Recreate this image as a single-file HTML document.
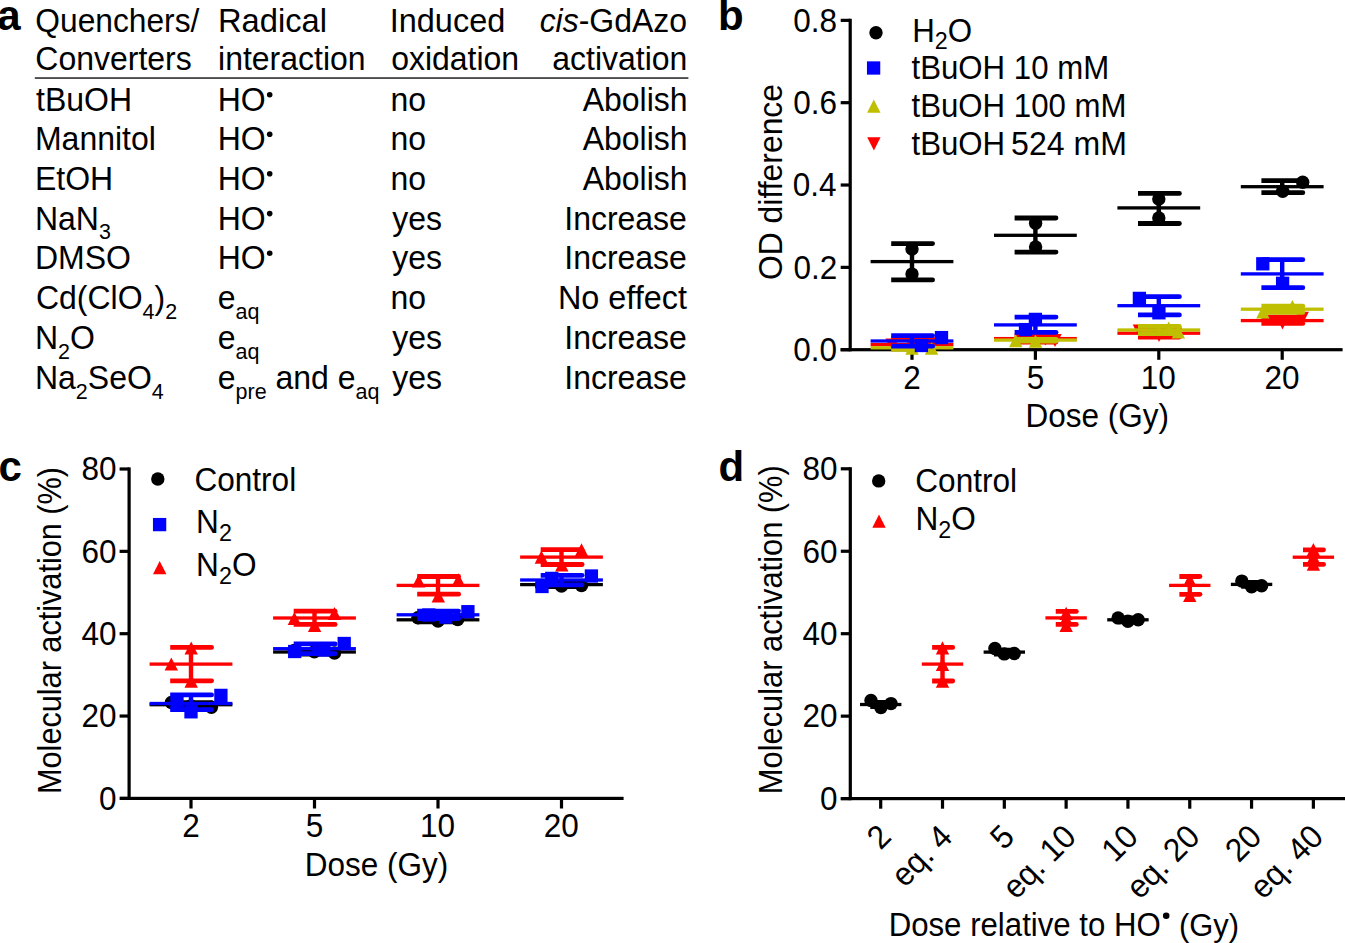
<!DOCTYPE html>
<html><head><meta charset="utf-8"><style>
html,body{margin:0;padding:0;background:#fff;}
svg{display:block;}
text{font-family:"Liberation Sans",sans-serif;}
</style></head><body>
<svg width="1345" height="943" viewBox="0 0 1345 943">
<rect width="1345" height="943" fill="#fff"/>
<text x="-2.72" y="29.50" font-size="42" text-anchor="start" style="font-weight:bold;" fill="#000"  >a</text>
<text x="35.31" y="31.90" font-size="32" text-anchor="start" style="" fill="#000" transform="matrix(1 0 0 1.04 0 -1.276)"  textLength="164.07" lengthAdjust="spacingAndGlyphs">Quenchers/</text>
<text x="35.37" y="70.50" font-size="32" text-anchor="start" style="" fill="#000" transform="matrix(1 0 0 1.04 0 -2.820)" >Converters</text>
<text x="217.92" y="31.90" font-size="32" text-anchor="start" style="" fill="#000" transform="matrix(1 0 0 1.04 0 -1.276)"  textLength="109.07" lengthAdjust="spacingAndGlyphs">Radical</text>
<text x="218.06" y="70.50" font-size="32" text-anchor="start" style="" fill="#000" transform="matrix(1 0 0 1.04 0 -2.820)" >interaction</text>
<text x="389.71" y="31.90" font-size="32" text-anchor="start" style="" fill="#000" transform="matrix(1 0 0 1.04 0 -1.276)"  textLength="115.59" lengthAdjust="spacingAndGlyphs">Induced</text>
<text x="391.16" y="70.50" font-size="32" text-anchor="start" style="" fill="#000" transform="matrix(1 0 0 1.04 0 -2.820)" >oxidation</text>
<text x="687.15" y="31.90" font-size="32" text-anchor="end" transform="matrix(1 0 0 1.04 0 -1.276)" ><tspan style="font-style:italic">cis</tspan>-GdAzo</text>
<text x="687.40" y="70.50" font-size="32" text-anchor="end" style="" fill="#000" transform="matrix(1 0 0 1.04 0 -2.820)" >activation</text>
<rect x="34.8" y="77.2" width="653.6" height="1.7" fill="#3a3a3a"/>
<text x="36.12" y="110.70" font-size="32" text-anchor="start" transform="matrix(1 0 0 1.04 0 -4.428)" >tBuOH</text>
<text x="34.98" y="150.20" font-size="32" text-anchor="start" transform="matrix(1 0 0 1.04 0 -6.008)" >Mannitol</text>
<text x="34.98" y="189.80" font-size="32" text-anchor="start" transform="matrix(1 0 0 1.04 0 -7.592)" >EtOH</text>
<text x="34.98" y="229.60" font-size="32" text-anchor="start" transform="matrix(1 0 0 1.04 0 -9.184)" >NaN<tspan font-size="21.5" dy="9">3</tspan></text>
<text x="34.98" y="269.20" font-size="32" text-anchor="start" transform="matrix(1 0 0 1.04 0 -10.768)" >DMSO</text>
<text x="35.97" y="309.30" font-size="32" text-anchor="start" transform="matrix(1 0 0 1.04 0 -12.372)" >Cd(ClO<tspan font-size="21.5" dy="9">4</tspan><tspan dy="-9">)</tspan><tspan font-size="21.5" dy="9">2</tspan></text>
<text x="34.98" y="349.30" font-size="32" text-anchor="start" transform="matrix(1 0 0 1.04 0 -13.972)" >N<tspan font-size="21.5" dy="9">2</tspan><tspan dy="-9">O</tspan></text>
<text x="34.98" y="389.20" font-size="32" text-anchor="start" transform="matrix(1 0 0 1.04 0 -15.568)" >Na<tspan font-size="21.5" dy="9">2</tspan><tspan dy="-9">SeO</tspan><tspan font-size="21.5" dy="9">4</tspan></text>
<text x="217.78" y="110.70" font-size="32" text-anchor="start" transform="matrix(1 0 0 1.04 0 -4.428)" >HO</text>
<circle cx="269.7" cy="94.70" r="2.8" fill="#000"/>
<text x="217.78" y="150.20" font-size="32" text-anchor="start" transform="matrix(1 0 0 1.04 0 -6.008)" >HO</text>
<circle cx="269.7" cy="134.20" r="2.8" fill="#000"/>
<text x="217.78" y="189.80" font-size="32" text-anchor="start" transform="matrix(1 0 0 1.04 0 -7.592)" >HO</text>
<circle cx="269.7" cy="173.80" r="2.8" fill="#000"/>
<text x="217.78" y="229.60" font-size="32" text-anchor="start" transform="matrix(1 0 0 1.04 0 -9.184)" >HO</text>
<circle cx="269.7" cy="213.60" r="2.8" fill="#000"/>
<text x="217.78" y="269.20" font-size="32" text-anchor="start" transform="matrix(1 0 0 1.04 0 -10.768)" >HO</text>
<circle cx="269.7" cy="253.20" r="2.8" fill="#000"/>
<text x="217.76" y="309.30" font-size="32" text-anchor="start" transform="matrix(1 0 0 1.04 0 -12.372)" >e<tspan font-size="21.5" dy="9">aq</tspan></text>
<text x="217.76" y="349.30" font-size="32" text-anchor="start" transform="matrix(1 0 0 1.04 0 -13.972)" >e<tspan font-size="21.5" dy="9">aq</tspan></text>
<text x="217.76" y="389.20" font-size="32" text-anchor="start" transform="matrix(1 0 0 1.04 0 -15.568)" >e<tspan font-size="21.5" dy="9">pre</tspan><tspan dy="-9"> and e</tspan><tspan font-size="21.5" dy="9">aq</tspan></text>
<text x="390.59" y="110.70" font-size="32" text-anchor="start" style="" fill="#000" transform="matrix(1 0 0 1.04 0 -4.428)" >no</text>
<text x="390.59" y="150.20" font-size="32" text-anchor="start" style="" fill="#000" transform="matrix(1 0 0 1.04 0 -6.008)" >no</text>
<text x="390.59" y="189.80" font-size="32" text-anchor="start" style="" fill="#000" transform="matrix(1 0 0 1.04 0 -7.592)" >no</text>
<text x="392.20" y="229.60" font-size="32" text-anchor="start" style="" fill="#000" transform="matrix(1 0 0 1.04 0 -9.184)" >yes</text>
<text x="392.20" y="269.20" font-size="32" text-anchor="start" style="" fill="#000" transform="matrix(1 0 0 1.04 0 -10.768)" >yes</text>
<text x="390.59" y="309.30" font-size="32" text-anchor="start" style="" fill="#000" transform="matrix(1 0 0 1.04 0 -12.372)" >no</text>
<text x="392.20" y="349.30" font-size="32" text-anchor="start" style="" fill="#000" transform="matrix(1 0 0 1.04 0 -13.972)" >yes</text>
<text x="392.20" y="389.20" font-size="32" text-anchor="start" style="" fill="#000" transform="matrix(1 0 0 1.04 0 -15.568)" >yes</text>
<text x="687.57" y="110.70" font-size="32" text-anchor="end" style="" fill="#000" transform="matrix(1 0 0 1.04 0 -4.428)" >Abolish</text>
<text x="687.57" y="150.20" font-size="32" text-anchor="end" style="" fill="#000" transform="matrix(1 0 0 1.04 0 -6.008)" >Abolish</text>
<text x="687.57" y="189.80" font-size="32" text-anchor="end" style="" fill="#000" transform="matrix(1 0 0 1.04 0 -7.592)" >Abolish</text>
<text x="686.92" y="229.60" font-size="32" text-anchor="end" style="" fill="#000" transform="matrix(1 0 0 1.04 0 -9.184)" >Increase</text>
<text x="686.92" y="269.20" font-size="32" text-anchor="end" style="" fill="#000" transform="matrix(1 0 0 1.04 0 -10.768)" >Increase</text>
<text x="687.02" y="309.30" font-size="32" text-anchor="end" style="" fill="#000" transform="matrix(1 0 0 1.04 0 -12.372)"  textLength="129.08" lengthAdjust="spacingAndGlyphs">No effect</text>
<text x="686.92" y="349.30" font-size="32" text-anchor="end" style="" fill="#000" transform="matrix(1 0 0 1.04 0 -13.972)" >Increase</text>
<text x="686.92" y="389.20" font-size="32" text-anchor="end" style="" fill="#000" transform="matrix(1 0 0 1.04 0 -15.568)" >Increase</text>
<text x="718.03" y="30.10" font-size="42" text-anchor="start" style="font-weight:bold;" fill="#000"  >b</text>
<text x="836.93" y="360.90" font-size="31.5" text-anchor="end" style="" fill="#000" transform="matrix(1 0 0 1.04 0 -14.436)" >0.0</text>
<text x="837.28" y="278.56" font-size="31.5" text-anchor="end" style="" fill="#000" transform="matrix(1 0 0 1.04 0 -11.143)" >0.2</text>
<text x="836.62" y="196.22" font-size="31.5" text-anchor="end" style="" fill="#000" transform="matrix(1 0 0 1.04 0 -7.849)" >0.4</text>
<text x="837.09" y="113.89" font-size="31.5" text-anchor="end" style="" fill="#000" transform="matrix(1 0 0 1.04 0 -4.556)" >0.6</text>
<text x="837.06" y="31.55" font-size="31.5" text-anchor="end" style="" fill="#000" transform="matrix(1 0 0 1.04 0 -1.262)" >0.8</text>
<text x="912.00" y="388.60" font-size="31.5" text-anchor="middle" style="" fill="#000" transform="matrix(1 0 0 1.04 0 -15.544)" >2</text>
<text x="1035.43" y="388.60" font-size="31.5" text-anchor="middle" style="" fill="#000" transform="matrix(1 0 0 1.04 0 -15.544)" >5</text>
<text x="1158.22" y="388.60" font-size="31.5" text-anchor="middle" style="" fill="#000" transform="matrix(1 0 0 1.04 0 -15.544)" >10</text>
<text x="1282.03" y="388.60" font-size="31.5" text-anchor="middle" style="" fill="#000" transform="matrix(1 0 0 1.04 0 -15.544)" >20</text>
<text x="1097.29" y="427.00" font-size="31.5" text-anchor="middle" style="" fill="#000" transform="matrix(1 0 0 1.04 0 -17.080)" >Dose (Gy)</text>
<g transform="translate(782,182) rotate(-90)">
<text x="-0.04" y="0.00" font-size="31.9" text-anchor="middle" style="" fill="#000" transform="matrix(1 0 0 1.04 0 -0.000)" >OD difference</text>
</g>
<circle cx="876.00" cy="32.70" r="6.70" fill="#000"/>
<rect x="866.95" y="61.35" width="13.30" height="13.30" fill="#0000ff"/>
<path d="M873.80,99.60L880.50,112.80L867.10,112.80Z" fill="#bfbf00"/>
<path d="M873.90,150.50L880.60,137.30L867.20,137.30Z" fill="#ff0000"/>
<text x="912.13" y="41.70" font-size="31.3" text-anchor="start" transform="matrix(1 0 0 1.04 0 -1.668)" >H<tspan font-size="23.3" dy="6.8">2</tspan><tspan dy="-6.8">O</tspan></text>
<text x="911.53" y="79.20" font-size="31.2" text-anchor="start" style="" fill="#000" transform="matrix(1 0 0 1.04 0 -3.168)" >tBuOH 10 mM</text>
<text x="911.53" y="117.10" font-size="31.2" text-anchor="start" style="" fill="#000" transform="matrix(1 0 0 1.04 0 -4.684)" >tBuOH 100 mM</text>
<text x="911.53" y="154.60" font-size="31.2" text-anchor="start" style="" fill="#000" transform="matrix(1 0 0 1.04 0 -6.184)" >tBuOH</text>
<text x="1011.12" y="154.60" font-size="31.2" text-anchor="start" style="" fill="#000" transform="matrix(1 0 0 1.04 0 -6.184)"  textLength="115.93" lengthAdjust="spacingAndGlyphs">524 mM</text>
<rect x="848.60" y="18.75" width="3.20" height="332.55" fill="#000"/>
<rect x="840.70" y="348.10" width="9.50" height="3.20" fill="#000"/>
<rect x="840.70" y="265.76" width="9.50" height="3.20" fill="#000"/>
<rect x="840.70" y="183.43" width="9.50" height="3.20" fill="#000"/>
<rect x="840.70" y="101.09" width="9.50" height="3.20" fill="#000"/>
<rect x="840.70" y="18.75" width="9.50" height="3.20" fill="#000"/>
<rect x="840.60" y="348.10" width="502.00" height="3.20" fill="#000"/>
<rect x="910.40" y="349.70" width="3.20" height="10.10" fill="#000"/>
<rect x="1033.80" y="349.70" width="3.20" height="10.10" fill="#000"/>
<rect x="1157.20" y="349.70" width="3.20" height="10.10" fill="#000"/>
<rect x="1280.60" y="349.70" width="3.20" height="10.10" fill="#000"/>
<rect x="870.60" y="342.95" width="82.80" height="3.30" fill="#ff0000"/>
<rect x="909.80" y="338.70" width="4.40" height="7.10" fill="#ff0000"/>
<path d="M891.20,336.30H932.60A2.40,2.40 0 0 1 932.60,341.10H891.20Z" fill="#ff0000"/>
<path d="M891.20,343.40H932.60A2.40,2.40 0 0 1 932.60,348.20H891.20Z" fill="#ff0000"/>
<path d="M892.20,351.80L898.90,338.60L885.50,338.60Z" fill="#ff0000"/>
<path d="M912.00,351.60L918.70,338.40L905.30,338.40Z" fill="#ff0000"/>
<path d="M931.00,350.60L937.70,337.40L924.30,337.40Z" fill="#ff0000"/>
<rect x="994.00" y="336.95" width="82.80" height="3.30" fill="#ff0000"/>
<rect x="1033.20" y="336.00" width="4.40" height="6.00" fill="#ff0000"/>
<path d="M1014.60,333.60H1056.00A2.40,2.40 0 0 1 1056.00,338.40H1014.60Z" fill="#ff0000"/>
<path d="M1014.60,339.60H1056.00A2.40,2.40 0 0 1 1056.00,344.40H1014.60Z" fill="#ff0000"/>
<path d="M1045.40,345.50L1052.10,332.30L1038.70,332.30Z" fill="#ff0000"/>
<path d="M1055.00,347.10L1061.70,333.90L1048.30,333.90Z" fill="#ff0000"/>
<rect x="1117.40" y="331.55" width="82.80" height="3.30" fill="#ff0000"/>
<rect x="1156.60" y="329.00" width="4.40" height="8.00" fill="#ff0000"/>
<path d="M1138.00,326.60H1179.40A2.40,2.40 0 0 1 1179.40,331.40H1138.00Z" fill="#ff0000"/>
<path d="M1138.00,334.60H1179.40A2.40,2.40 0 0 1 1179.40,339.40H1138.00Z" fill="#ff0000"/>
<path d="M1159.00,341.90L1165.70,328.70L1152.30,328.70Z" fill="#ff0000"/>
<path d="M1139.40,337.60L1146.10,324.40L1132.70,324.40Z" fill="#ff0000"/>
<rect x="1240.80" y="318.95" width="82.80" height="3.30" fill="#ff0000"/>
<rect x="1280.00" y="317.20" width="4.40" height="6.20" fill="#ff0000"/>
<path d="M1261.40,314.80H1302.80A2.40,2.40 0 0 1 1302.80,319.60H1261.40Z" fill="#ff0000"/>
<path d="M1261.40,321.00H1302.80A2.40,2.40 0 0 1 1302.80,325.80H1261.40Z" fill="#ff0000"/>
<path d="M1282.50,329.40L1289.20,316.20L1275.80,316.20Z" fill="#ff0000"/>
<path d="M1302.20,325.00L1308.90,311.80L1295.50,311.80Z" fill="#ff0000"/>
<rect x="870.60" y="346.15" width="82.80" height="3.30" fill="#bfbf00"/>
<rect x="909.80" y="346.30" width="4.40" height="3.00" fill="#bfbf00"/>
<path d="M891.20,343.90H932.60A2.40,2.40 0 0 1 932.60,348.70H891.20Z" fill="#bfbf00"/>
<path d="M891.20,346.90H932.60A2.40,2.40 0 0 1 932.60,351.70H891.20Z" fill="#bfbf00"/>
<path d="M912.00,341.50L918.70,354.70L905.30,354.70Z" fill="#bfbf00"/>
<path d="M931.60,341.50L938.30,354.70L924.90,354.70Z" fill="#bfbf00"/>
<rect x="994.00" y="338.45" width="82.80" height="3.30" fill="#bfbf00"/>
<rect x="1033.20" y="339.30" width="4.40" height="1.70" fill="#bfbf00"/>
<path d="M1014.60,336.90H1056.00A2.40,2.40 0 0 1 1056.00,341.70H1014.60Z" fill="#bfbf00"/>
<path d="M1014.60,338.60H1056.00A2.40,2.40 0 0 1 1056.00,343.40H1014.60Z" fill="#bfbf00"/>
<path d="M1015.70,334.10L1022.40,347.30L1009.00,347.30Z" fill="#bfbf00"/>
<path d="M1035.50,334.60L1042.20,347.80L1028.80,347.80Z" fill="#bfbf00"/>
<rect x="1117.40" y="328.35" width="82.80" height="3.30" fill="#bfbf00"/>
<rect x="1156.60" y="326.40" width="4.40" height="7.20" fill="#bfbf00"/>
<path d="M1138.00,324.00H1179.40A2.40,2.40 0 0 1 1179.40,328.80H1138.00Z" fill="#bfbf00"/>
<path d="M1138.00,331.20H1179.40A2.40,2.40 0 0 1 1179.40,336.00H1138.00Z" fill="#bfbf00"/>
<path d="M1168.70,321.40L1175.40,334.60L1162.00,334.60Z" fill="#bfbf00"/>
<path d="M1178.30,325.30L1185.00,338.50L1171.60,338.50Z" fill="#bfbf00"/>
<rect x="1240.80" y="307.55" width="82.80" height="3.30" fill="#bfbf00"/>
<rect x="1280.00" y="306.20" width="4.40" height="6.20" fill="#bfbf00"/>
<path d="M1261.40,303.80H1302.80A2.40,2.40 0 0 1 1302.80,308.60H1261.40Z" fill="#bfbf00"/>
<path d="M1261.40,310.00H1302.80A2.40,2.40 0 0 1 1302.80,314.80H1261.40Z" fill="#bfbf00"/>
<path d="M1292.40,300.00L1299.10,313.20L1285.70,313.20Z" fill="#bfbf00"/>
<path d="M1262.90,305.30L1269.60,318.50L1256.20,318.50Z" fill="#bfbf00"/>
<rect x="870.60" y="339.35" width="82.80" height="3.30" fill="#0000ff"/>
<rect x="909.80" y="335.60" width="4.40" height="10.60" fill="#0000ff"/>
<path d="M891.20,333.20H932.60A2.40,2.40 0 0 1 932.60,338.00H891.20Z" fill="#0000ff"/>
<path d="M891.20,343.80H932.60A2.40,2.40 0 0 1 932.60,348.60H891.20Z" fill="#0000ff"/>
<rect x="934.85" y="330.95" width="13.30" height="13.30" fill="#0000ff"/>
<rect x="914.75" y="338.85" width="13.30" height="13.30" fill="#0000ff"/>
<rect x="994.00" y="323.25" width="82.80" height="3.30" fill="#0000ff"/>
<rect x="1033.20" y="317.10" width="4.40" height="15.20" fill="#0000ff"/>
<path d="M1014.60,314.70H1056.00A2.40,2.40 0 0 1 1056.00,319.50H1014.60Z" fill="#0000ff"/>
<path d="M1014.60,329.90H1056.00A2.40,2.40 0 0 1 1056.00,334.70H1014.60Z" fill="#0000ff"/>
<rect x="1028.75" y="312.75" width="13.30" height="13.30" fill="#0000ff"/>
<rect x="1018.85" y="322.95" width="13.30" height="13.30" fill="#0000ff"/>
<rect x="1117.40" y="304.05" width="82.80" height="3.30" fill="#0000ff"/>
<rect x="1156.60" y="296.70" width="4.40" height="18.20" fill="#0000ff"/>
<path d="M1138.00,294.30H1179.40A2.40,2.40 0 0 1 1179.40,299.10H1138.00Z" fill="#0000ff"/>
<path d="M1138.00,312.50H1179.40A2.40,2.40 0 0 1 1179.40,317.30H1138.00Z" fill="#0000ff"/>
<rect x="1132.75" y="291.75" width="13.30" height="13.30" fill="#0000ff"/>
<rect x="1152.25" y="306.15" width="13.30" height="13.30" fill="#0000ff"/>
<rect x="1240.80" y="272.25" width="82.80" height="3.30" fill="#0000ff"/>
<rect x="1280.00" y="259.70" width="4.40" height="28.00" fill="#0000ff"/>
<path d="M1261.40,257.30H1302.80A2.40,2.40 0 0 1 1302.80,262.10H1261.40Z" fill="#0000ff"/>
<path d="M1261.40,285.30H1302.80A2.40,2.40 0 0 1 1302.80,290.10H1261.40Z" fill="#0000ff"/>
<rect x="1256.15" y="257.15" width="13.30" height="13.30" fill="#0000ff"/>
<rect x="1275.95" y="276.65" width="13.30" height="13.30" fill="#0000ff"/>
<rect x="870.60" y="259.95" width="82.80" height="3.30" fill="#000"/>
<rect x="909.80" y="243.60" width="4.40" height="36.30" fill="#000"/>
<path d="M891.20,241.20H932.60A2.40,2.40 0 0 1 932.60,246.00H891.20Z" fill="#000"/>
<path d="M891.20,277.50H932.60A2.40,2.40 0 0 1 932.60,282.30H891.20Z" fill="#000"/>
<circle cx="912.00" cy="249.00" r="6.70" fill="#000"/>
<circle cx="912.00" cy="274.10" r="6.70" fill="#000"/>
<rect x="994.00" y="233.65" width="82.80" height="3.30" fill="#000"/>
<rect x="1033.20" y="218.00" width="4.40" height="34.10" fill="#000"/>
<path d="M1014.60,215.60H1056.00A2.40,2.40 0 0 1 1056.00,220.40H1014.60Z" fill="#000"/>
<path d="M1014.60,249.70H1056.00A2.40,2.40 0 0 1 1056.00,254.50H1014.60Z" fill="#000"/>
<circle cx="1035.60" cy="223.20" r="6.70" fill="#000"/>
<circle cx="1035.60" cy="247.00" r="6.70" fill="#000"/>
<rect x="1117.40" y="206.25" width="82.80" height="3.30" fill="#000"/>
<rect x="1156.60" y="193.40" width="4.40" height="30.10" fill="#000"/>
<path d="M1138.00,191.00H1179.40A2.40,2.40 0 0 1 1179.40,195.80H1138.00Z" fill="#000"/>
<path d="M1138.00,221.10H1179.40A2.40,2.40 0 0 1 1179.40,225.90H1138.00Z" fill="#000"/>
<circle cx="1158.80" cy="199.00" r="6.70" fill="#000"/>
<circle cx="1158.80" cy="217.90" r="6.70" fill="#000"/>
<rect x="1240.80" y="185.05" width="82.80" height="3.30" fill="#000"/>
<rect x="1280.00" y="180.70" width="4.40" height="12.00" fill="#000"/>
<path d="M1261.40,178.30H1302.80A2.40,2.40 0 0 1 1302.80,183.10H1261.40Z" fill="#000"/>
<path d="M1261.40,190.30H1302.80A2.40,2.40 0 0 1 1302.80,195.10H1261.40Z" fill="#000"/>
<circle cx="1302.70" cy="182.30" r="6.70" fill="#000"/>
<circle cx="1282.70" cy="191.20" r="6.70" fill="#000"/>
<text x="-1.44" y="481.20" font-size="42" text-anchor="start" style="font-weight:bold;" fill="#000"  >c</text>
<text x="116.43" y="809.70" font-size="31.5" text-anchor="end" style="" fill="#000" transform="matrix(1 0 0 1.04 0 -32.388)" >0</text>
<text x="116.44" y="727.35" font-size="31.5" text-anchor="end" style="" fill="#000" transform="matrix(1 0 0 1.04 0 -29.094)" >20</text>
<text x="116.44" y="645.00" font-size="31.5" text-anchor="end" style="" fill="#000" transform="matrix(1 0 0 1.04 0 -25.800)" >40</text>
<text x="116.44" y="562.65" font-size="31.5" text-anchor="end" style="" fill="#000" transform="matrix(1 0 0 1.04 0 -22.506)" >60</text>
<text x="116.44" y="480.30" font-size="31.5" text-anchor="end" style="" fill="#000" transform="matrix(1 0 0 1.04 0 -19.212)" >80</text>
<text x="191.00" y="837.40" font-size="31.5" text-anchor="middle" style="" fill="#000" transform="matrix(1 0 0 1.04 0 -33.496)" >2</text>
<text x="314.53" y="837.40" font-size="31.5" text-anchor="middle" style="" fill="#000" transform="matrix(1 0 0 1.04 0 -33.496)" >5</text>
<text x="437.42" y="837.40" font-size="31.5" text-anchor="middle" style="" fill="#000" transform="matrix(1 0 0 1.04 0 -33.496)" >10</text>
<text x="561.33" y="837.40" font-size="31.5" text-anchor="middle" style="" fill="#000" transform="matrix(1 0 0 1.04 0 -33.496)" >20</text>
<text x="376.59" y="876.10" font-size="31.5" text-anchor="middle" style="" fill="#000" transform="matrix(1 0 0 1.04 0 -35.044)" >Dose (Gy)</text>
<g transform="translate(61,630.5) rotate(-90)">
<text x="0" y="0" font-size="31.6" text-anchor="middle" textLength="327" lengthAdjust="spacingAndGlyphs" transform="matrix(1 0 0 1.04 0 -0.000)">Molecular activation (%)</text>
</g>
<circle cx="157.80" cy="479.00" r="6.70" fill="#000"/>
<rect x="152.95" y="517.95" width="13.30" height="13.30" fill="#0000ff"/>
<path d="M159.70,561.00L166.40,574.20L153.00,574.20Z" fill="#ff0000"/>
<text x="194.39" y="491.00" font-size="31.6" text-anchor="start" style="" fill="#000" transform="matrix(1 0 0 1.04 0 -19.640)" >Control</text>
<text x="196.11" y="533.50" font-size="31.6" text-anchor="start" transform="matrix(1 0 0 1.04 0 -21.340)" >N<tspan font-size="23.3" dy="6.9">2</tspan></text>
<text x="196.11" y="576.50" font-size="31.6" text-anchor="start" transform="matrix(1 0 0 1.04 0 -23.060)" >N<tspan font-size="23.3" dy="6.9">2</tspan><tspan dy="-6.9">O</tspan></text>
<rect x="149.60" y="703.05" width="82.80" height="3.30" fill="#000"/>
<rect x="188.80" y="702.70" width="4.40" height="4.00" fill="#000"/>
<path d="M170.20,700.30H211.60A2.40,2.40 0 0 1 211.60,705.10H170.20Z" fill="#000"/>
<path d="M170.20,704.30H211.60A2.40,2.40 0 0 1 211.60,709.10H170.20Z" fill="#000"/>
<circle cx="171.40" cy="702.50" r="6.70" fill="#000"/>
<circle cx="211.40" cy="707.30" r="6.70" fill="#000"/>
<circle cx="191.00" cy="706.00" r="6.70" fill="#000"/>
<rect x="273.10" y="650.35" width="82.80" height="3.30" fill="#000"/>
<rect x="312.30" y="650.00" width="4.40" height="4.00" fill="#000"/>
<path d="M293.70,647.60H335.10A2.40,2.40 0 0 1 335.10,652.40H293.70Z" fill="#000"/>
<path d="M293.70,651.60H335.10A2.40,2.40 0 0 1 335.10,656.40H293.70Z" fill="#000"/>
<circle cx="314.40" cy="651.70" r="6.70" fill="#000"/>
<circle cx="334.50" cy="653.00" r="6.70" fill="#000"/>
<circle cx="294.40" cy="650.50" r="6.70" fill="#000"/>
<rect x="396.60" y="618.15" width="82.80" height="3.30" fill="#000"/>
<rect x="435.80" y="617.80" width="4.40" height="4.00" fill="#000"/>
<path d="M417.20,615.40H458.60A2.40,2.40 0 0 1 458.60,620.20H417.20Z" fill="#000"/>
<path d="M417.20,619.40H458.60A2.40,2.40 0 0 1 458.60,624.20H417.20Z" fill="#000"/>
<circle cx="417.90" cy="617.70" r="6.70" fill="#000"/>
<circle cx="438.00" cy="621.00" r="6.70" fill="#000"/>
<circle cx="457.70" cy="619.50" r="6.70" fill="#000"/>
<rect x="520.10" y="582.95" width="82.80" height="3.30" fill="#000"/>
<rect x="559.30" y="582.60" width="4.40" height="4.00" fill="#000"/>
<path d="M540.70,580.20H582.10A2.40,2.40 0 0 1 582.10,585.00H540.70Z" fill="#000"/>
<path d="M540.70,584.20H582.10A2.40,2.40 0 0 1 582.10,589.00H540.70Z" fill="#000"/>
<circle cx="561.50" cy="586.00" r="6.70" fill="#000"/>
<circle cx="581.50" cy="585.50" r="6.70" fill="#000"/>
<circle cx="541.50" cy="585.50" r="6.70" fill="#000"/>
<rect x="149.60" y="701.85" width="82.80" height="3.30" fill="#0000ff"/>
<rect x="188.80" y="694.90" width="4.40" height="14.80" fill="#0000ff"/>
<path d="M170.20,692.50H211.60A2.40,2.40 0 0 1 211.60,697.30H170.20Z" fill="#0000ff"/>
<path d="M170.20,707.30H211.60A2.40,2.40 0 0 1 211.60,712.10H170.20Z" fill="#0000ff"/>
<rect x="214.25" y="688.75" width="13.30" height="13.30" fill="#0000ff"/>
<rect x="184.35" y="705.15" width="13.30" height="13.30" fill="#0000ff"/>
<rect x="170.35" y="696.35" width="13.30" height="13.30" fill="#0000ff"/>
<rect x="273.10" y="647.05" width="82.80" height="3.30" fill="#0000ff"/>
<rect x="312.30" y="643.90" width="4.40" height="9.80" fill="#0000ff"/>
<path d="M293.70,641.50H335.10A2.40,2.40 0 0 1 335.10,646.30H293.70Z" fill="#0000ff"/>
<path d="M293.70,651.30H335.10A2.40,2.40 0 0 1 335.10,656.10H293.70Z" fill="#0000ff"/>
<rect x="337.55" y="636.85" width="13.30" height="13.30" fill="#0000ff"/>
<rect x="288.05" y="644.85" width="13.30" height="13.30" fill="#0000ff"/>
<rect x="317.25" y="643.35" width="13.30" height="13.30" fill="#0000ff"/>
<rect x="396.60" y="613.15" width="82.80" height="3.30" fill="#0000ff"/>
<rect x="435.80" y="611.10" width="4.40" height="7.40" fill="#0000ff"/>
<path d="M417.20,608.70H458.60A2.40,2.40 0 0 1 458.60,613.50H417.20Z" fill="#0000ff"/>
<path d="M417.20,616.10H458.60A2.40,2.40 0 0 1 458.60,620.90H417.20Z" fill="#0000ff"/>
<rect x="461.25" y="605.05" width="13.30" height="13.30" fill="#0000ff"/>
<rect x="422.15" y="608.35" width="13.30" height="13.30" fill="#0000ff"/>
<rect x="438.95" y="610.45" width="13.30" height="13.30" fill="#0000ff"/>
<rect x="520.10" y="578.35" width="82.80" height="3.30" fill="#0000ff"/>
<rect x="559.30" y="575.30" width="4.40" height="9.50" fill="#0000ff"/>
<path d="M540.70,572.90H582.10A2.40,2.40 0 0 1 582.10,577.70H540.70Z" fill="#0000ff"/>
<path d="M540.70,582.40H582.10A2.40,2.40 0 0 1 582.10,587.20H540.70Z" fill="#0000ff"/>
<rect x="584.75" y="569.35" width="13.30" height="13.30" fill="#0000ff"/>
<rect x="535.35" y="579.85" width="13.30" height="13.30" fill="#0000ff"/>
<rect x="545.15" y="571.75" width="13.30" height="13.30" fill="#0000ff"/>
<rect x="149.60" y="662.45" width="82.80" height="3.30" fill="#ff0000"/>
<rect x="188.80" y="647.40" width="4.40" height="33.40" fill="#ff0000"/>
<path d="M170.20,645.00H211.60A2.40,2.40 0 0 1 211.60,649.80H170.20Z" fill="#ff0000"/>
<path d="M170.20,678.40H211.60A2.40,2.40 0 0 1 211.60,683.20H170.20Z" fill="#ff0000"/>
<path d="M191.20,641.40L197.90,654.60L184.50,654.60Z" fill="#ff0000"/>
<path d="M171.30,657.40L178.00,670.60L164.60,670.60Z" fill="#ff0000"/>
<path d="M191.20,674.60L197.90,687.80L184.50,687.80Z" fill="#ff0000"/>
<rect x="273.10" y="616.35" width="82.80" height="3.30" fill="#ff0000"/>
<rect x="312.30" y="611.20" width="4.40" height="13.20" fill="#ff0000"/>
<path d="M293.70,608.80H335.10A2.40,2.40 0 0 1 335.10,613.60H293.70Z" fill="#ff0000"/>
<path d="M293.70,622.00H335.10A2.40,2.40 0 0 1 335.10,626.80H293.70Z" fill="#ff0000"/>
<path d="M334.50,606.90L341.20,620.10L327.80,620.10Z" fill="#ff0000"/>
<path d="M294.40,611.90L301.10,625.10L287.70,625.10Z" fill="#ff0000"/>
<path d="M314.60,618.90L321.30,632.10L307.90,632.10Z" fill="#ff0000"/>
<rect x="396.60" y="583.75" width="82.80" height="3.30" fill="#ff0000"/>
<rect x="435.80" y="576.50" width="4.40" height="17.70" fill="#ff0000"/>
<path d="M417.20,574.10H458.60A2.40,2.40 0 0 1 458.60,578.90H417.20Z" fill="#ff0000"/>
<path d="M417.20,591.80H458.60A2.40,2.40 0 0 1 458.60,596.60H417.20Z" fill="#ff0000"/>
<path d="M418.60,574.40L425.30,587.60L411.90,587.60Z" fill="#ff0000"/>
<path d="M458.40,573.30L465.10,586.50L451.70,586.50Z" fill="#ff0000"/>
<path d="M438.30,589.40L445.00,602.60L431.60,602.60Z" fill="#ff0000"/>
<rect x="520.10" y="555.45" width="82.80" height="3.30" fill="#ff0000"/>
<rect x="559.30" y="549.70" width="4.40" height="14.80" fill="#ff0000"/>
<path d="M540.70,547.30H582.10A2.40,2.40 0 0 1 582.10,552.10H540.70Z" fill="#ff0000"/>
<path d="M540.70,562.10H582.10A2.40,2.40 0 0 1 582.10,566.90H540.70Z" fill="#ff0000"/>
<path d="M581.50,543.30L588.20,556.50L574.80,556.50Z" fill="#ff0000"/>
<path d="M541.40,550.60L548.10,563.80L534.70,563.80Z" fill="#ff0000"/>
<path d="M561.80,558.40L568.50,571.60L555.10,571.60Z" fill="#ff0000"/>
<rect x="127.50" y="467.40" width="3.20" height="332.60" fill="#000"/>
<rect x="119.60" y="796.80" width="9.50" height="3.20" fill="#000"/>
<rect x="119.60" y="714.45" width="9.50" height="3.20" fill="#000"/>
<rect x="119.60" y="632.10" width="9.50" height="3.20" fill="#000"/>
<rect x="119.60" y="549.75" width="9.50" height="3.20" fill="#000"/>
<rect x="119.60" y="467.40" width="9.50" height="3.20" fill="#000"/>
<rect x="120.00" y="796.80" width="503.60" height="3.20" fill="#000"/>
<rect x="189.40" y="798.40" width="3.20" height="10.10" fill="#000"/>
<rect x="312.90" y="798.40" width="3.20" height="10.10" fill="#000"/>
<rect x="436.40" y="798.40" width="3.20" height="10.10" fill="#000"/>
<rect x="559.90" y="798.40" width="3.20" height="10.10" fill="#000"/>
<text x="718.38" y="480.70" font-size="42" text-anchor="start" style="font-weight:bold;" fill="#000"  >d</text>
<text x="837.53" y="809.90" font-size="31.5" text-anchor="end" style="" fill="#000" transform="matrix(1 0 0 1.04 0 -32.396)" >0</text>
<text x="837.54" y="727.45" font-size="31.5" text-anchor="end" style="" fill="#000" transform="matrix(1 0 0 1.04 0 -29.098)" >20</text>
<text x="837.54" y="645.00" font-size="31.5" text-anchor="end" style="" fill="#000" transform="matrix(1 0 0 1.04 0 -25.800)" >40</text>
<text x="837.54" y="562.55" font-size="31.5" text-anchor="end" style="" fill="#000" transform="matrix(1 0 0 1.04 0 -22.502)" >60</text>
<text x="837.54" y="480.10" font-size="31.5" text-anchor="end" style="" fill="#000" transform="matrix(1 0 0 1.04 0 -19.204)" >80</text>
<text x="893.28" y="839.50" font-size="31.5" text-anchor="end" transform="rotate(-45 891.70 839.50) matrix(1 0 0 1.04 0 -33.580)">2</text>
<text x="954.43" y="839.50" font-size="31.5" text-anchor="end" transform="rotate(-45 953.51 839.50) matrix(1 0 0 1.04 0 -33.580)">eq. 4</text>
<text x="1016.65" y="839.50" font-size="31.5" text-anchor="end" transform="rotate(-45 1015.32 839.50) matrix(1 0 0 1.04 0 -33.580)">5</text>
<text x="1078.37" y="839.50" font-size="31.5" text-anchor="end" transform="rotate(-45 1077.13 839.50) matrix(1 0 0 1.04 0 -33.580)">eq. 10</text>
<text x="1140.18" y="839.50" font-size="31.5" text-anchor="end" transform="rotate(-45 1138.94 839.50) matrix(1 0 0 1.04 0 -33.580)">10</text>
<text x="1201.99" y="839.50" font-size="31.5" text-anchor="end" transform="rotate(-45 1200.75 839.50) matrix(1 0 0 1.04 0 -33.580)">eq. 20</text>
<text x="1263.80" y="839.50" font-size="31.5" text-anchor="end" transform="rotate(-45 1262.56 839.50) matrix(1 0 0 1.04 0 -33.580)">20</text>
<text x="1325.61" y="839.50" font-size="31.5" text-anchor="end" transform="rotate(-45 1324.37 839.50) matrix(1 0 0 1.04 0 -33.580)">eq. 40</text>
<text x="888.64" y="935.80" font-size="31.2" text-anchor="start" style="" fill="#000" transform="matrix(1 0 0 1.04 0 -37.432)" >Dose relative to HO</text>
<circle cx="1166.20" cy="915.80" r="3.30" fill="#000"/>
<text x="1178.88" y="935.80" font-size="30.9" text-anchor="start" style="" fill="#000" transform="matrix(1 0 0 1.04 0 -37.432)" >(Gy)</text>
<g transform="translate(781.8,629.7) rotate(-90)">
<text x="0" y="0" font-size="31.6" text-anchor="middle" textLength="329" lengthAdjust="spacingAndGlyphs" transform="matrix(1 0 0 1.04 0 -0.000)">Molecular activation (%)</text>
</g>
<circle cx="878.70" cy="480.90" r="6.70" fill="#000"/>
<path d="M879.00,514.60L885.70,527.80L872.30,527.80Z" fill="#ff0000"/>
<text x="915.29" y="492.50" font-size="31.6" text-anchor="start" style="" fill="#000" transform="matrix(1 0 0 1.04 0 -19.700)" >Control</text>
<text x="915.51" y="530.50" font-size="31.6" text-anchor="start" transform="matrix(1 0 0 1.04 0 -21.220)" >N<tspan font-size="23.3" dy="6.9">2</tspan><tspan dy="-6.9">O</tspan></text>
<rect x="860.00" y="702.85" width="41.40" height="3.30" fill="#000"/>
<rect x="878.50" y="702.50" width="4.40" height="4.00" fill="#000"/>
<path d="M870.30,700.10H890.90A2.40,2.40 0 0 1 890.90,704.90H870.30Z" fill="#000"/>
<path d="M870.30,704.10H890.90A2.40,2.40 0 0 1 890.90,708.90H870.30Z" fill="#000"/>
<circle cx="871.00" cy="700.50" r="6.70" fill="#000"/>
<circle cx="880.90" cy="707.60" r="6.70" fill="#000"/>
<circle cx="891.00" cy="703.60" r="6.70" fill="#000"/>
<rect x="983.62" y="650.45" width="41.40" height="3.30" fill="#000"/>
<rect x="1002.12" y="650.10" width="4.40" height="4.00" fill="#000"/>
<path d="M993.92,647.70H1014.52A2.40,2.40 0 0 1 1014.52,652.50H993.92Z" fill="#000"/>
<path d="M993.92,651.70H1014.52A2.40,2.40 0 0 1 1014.52,656.50H993.92Z" fill="#000"/>
<circle cx="994.90" cy="648.50" r="6.70" fill="#000"/>
<circle cx="1004.30" cy="653.90" r="6.70" fill="#000"/>
<circle cx="1014.20" cy="653.50" r="6.70" fill="#000"/>
<rect x="1107.24" y="618.15" width="41.40" height="3.30" fill="#000"/>
<rect x="1125.74" y="617.80" width="4.40" height="4.00" fill="#000"/>
<path d="M1117.54,615.40H1138.14A2.40,2.40 0 0 1 1138.14,620.20H1117.54Z" fill="#000"/>
<path d="M1117.54,619.40H1138.14A2.40,2.40 0 0 1 1138.14,624.20H1117.54Z" fill="#000"/>
<circle cx="1118.10" cy="617.90" r="6.70" fill="#000"/>
<circle cx="1127.90" cy="621.20" r="6.70" fill="#000"/>
<circle cx="1138.20" cy="619.80" r="6.70" fill="#000"/>
<rect x="1230.86" y="582.75" width="41.40" height="3.30" fill="#000"/>
<rect x="1249.36" y="582.40" width="4.40" height="4.00" fill="#000"/>
<path d="M1241.16,580.00H1261.76A2.40,2.40 0 0 1 1261.76,584.80H1241.16Z" fill="#000"/>
<path d="M1241.16,584.00H1261.76A2.40,2.40 0 0 1 1261.76,588.80H1241.16Z" fill="#000"/>
<circle cx="1241.80" cy="581.10" r="6.70" fill="#000"/>
<circle cx="1251.60" cy="586.70" r="6.70" fill="#000"/>
<circle cx="1261.60" cy="585.80" r="6.70" fill="#000"/>
<rect x="921.81" y="662.45" width="41.40" height="3.30" fill="#ff0000"/>
<rect x="940.31" y="647.40" width="4.40" height="33.60" fill="#ff0000"/>
<path d="M932.11,645.00H952.71A2.40,2.40 0 0 1 952.71,649.80H932.11Z" fill="#ff0000"/>
<path d="M932.11,678.60H952.71A2.40,2.40 0 0 1 952.71,683.40H932.11Z" fill="#ff0000"/>
<path d="M942.51,641.30L949.21,654.50L935.81,654.50Z" fill="#ff0000"/>
<path d="M942.51,657.90L949.21,671.10L935.81,671.10Z" fill="#ff0000"/>
<path d="M942.51,674.60L949.21,687.80L935.81,687.80Z" fill="#ff0000"/>
<rect x="1045.43" y="616.25" width="41.40" height="3.30" fill="#ff0000"/>
<rect x="1063.93" y="611.40" width="4.40" height="13.00" fill="#ff0000"/>
<path d="M1055.73,609.00H1076.33A2.40,2.40 0 0 1 1076.33,613.80H1055.73Z" fill="#ff0000"/>
<path d="M1055.73,622.00H1076.33A2.40,2.40 0 0 1 1076.33,626.80H1055.73Z" fill="#ff0000"/>
<path d="M1066.13,606.70L1072.83,619.90L1059.43,619.90Z" fill="#ff0000"/>
<path d="M1066.13,611.90L1072.83,625.10L1059.43,625.10Z" fill="#ff0000"/>
<path d="M1066.13,618.90L1072.83,632.10L1059.43,632.10Z" fill="#ff0000"/>
<rect x="1169.05" y="583.75" width="41.40" height="3.30" fill="#ff0000"/>
<rect x="1187.55" y="576.50" width="4.40" height="17.80" fill="#ff0000"/>
<path d="M1179.35,574.10H1199.95A2.40,2.40 0 0 1 1199.95,578.90H1179.35Z" fill="#ff0000"/>
<path d="M1179.35,591.90H1199.95A2.40,2.40 0 0 1 1199.95,596.70H1179.35Z" fill="#ff0000"/>
<path d="M1189.75,573.90L1196.45,587.10L1183.05,587.10Z" fill="#ff0000"/>
<path d="M1189.75,573.40L1196.45,586.60L1183.05,586.60Z" fill="#ff0000"/>
<path d="M1189.75,588.90L1196.45,602.10L1183.05,602.10Z" fill="#ff0000"/>
<rect x="1292.67" y="555.55" width="41.40" height="3.30" fill="#ff0000"/>
<rect x="1311.17" y="549.80" width="4.40" height="14.60" fill="#ff0000"/>
<path d="M1302.97,547.40H1323.57A2.40,2.40 0 0 1 1323.57,552.20H1302.97Z" fill="#ff0000"/>
<path d="M1302.97,562.00H1323.57A2.40,2.40 0 0 1 1323.57,566.80H1302.97Z" fill="#ff0000"/>
<path d="M1313.37,543.10L1320.07,556.30L1306.67,556.30Z" fill="#ff0000"/>
<path d="M1313.37,550.60L1320.07,563.80L1306.67,563.80Z" fill="#ff0000"/>
<path d="M1313.37,557.60L1320.07,570.80L1306.67,570.80Z" fill="#ff0000"/>
<rect x="848.70" y="467.20" width="3.20" height="333.00" fill="#000"/>
<rect x="840.80" y="797.00" width="9.50" height="3.20" fill="#000"/>
<rect x="840.80" y="714.55" width="9.50" height="3.20" fill="#000"/>
<rect x="840.80" y="632.10" width="9.50" height="3.20" fill="#000"/>
<rect x="840.80" y="549.65" width="9.50" height="3.20" fill="#000"/>
<rect x="840.80" y="467.20" width="9.50" height="3.20" fill="#000"/>
<rect x="840.80" y="797.00" width="504.20" height="3.20" fill="#000"/>
<rect x="879.10" y="798.60" width="3.20" height="10.10" fill="#000"/>
<rect x="940.91" y="798.60" width="3.20" height="10.10" fill="#000"/>
<rect x="1002.72" y="798.60" width="3.20" height="10.10" fill="#000"/>
<rect x="1064.53" y="798.60" width="3.20" height="10.10" fill="#000"/>
<rect x="1126.34" y="798.60" width="3.20" height="10.10" fill="#000"/>
<rect x="1188.15" y="798.60" width="3.20" height="10.10" fill="#000"/>
<rect x="1249.96" y="798.60" width="3.20" height="10.10" fill="#000"/>
<rect x="1311.77" y="798.60" width="3.20" height="10.10" fill="#000"/>
</svg>
</body></html>
